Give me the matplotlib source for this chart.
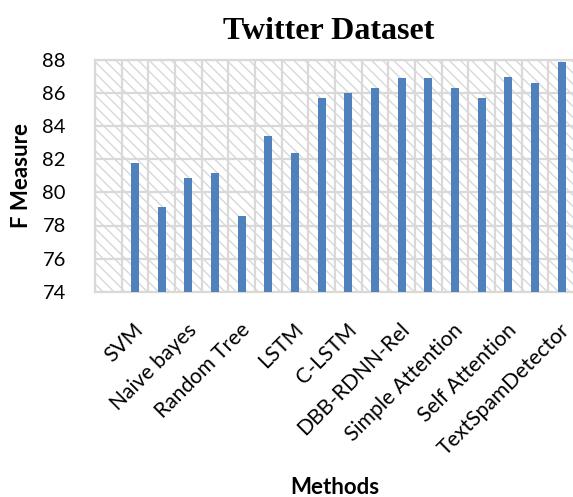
import numpy as np
import matplotlib
matplotlib.use("Agg")
import matplotlib.pyplot as plt
from matplotlib.transforms import blended_transform_factory, ScaledTranslation

# Category slots along the x axis; only every other slot carries a label
slot_labels = ["", "SVM", "", "Naive bayes", "", "Random Tree", "", "LSTM", "",
               "C-LSTM", "", "DBB-RDNN-Rel", "", "Simple Attention", "",
               "Self Attention", "", "TextSpamDetector"]
f_measure = [np.nan, 81.8, 79.1, 80.9, 81.2, 78.6, 83.4, 82.4, 85.7,
             86.0, 86.3, 86.9, 86.9, 86.3, 85.7, 87.0, 86.6, 87.9]
y_ticks = [74, 76, 78, 80, 82, 84, 86, 88]

W, H = 573, 497
fig = plt.figure(figsize=(W / 100, H / 100), dpi=100)
ax = fig.add_axes([95 / W, (H - 291.7) / H, 480 / W, (291.7 - 60) / H])

plt.rcParams["hatch.linewidth"] = 0.8
plt.rcParams["hatch.color"] = "#d8d8d8"
ax.patch.set_facecolor("white")
ax.patch.set_hatch("\\\\\\")
ax.patch.set_edgecolor("#d8d8d8")

x = np.arange(len(f_measure))
ax.bar(x, f_measure, width=0.3, color="#4f81bd", zorder=3, bottom=0)

ax.set_xlim(-0.5, len(f_measure) - 0.5)
ax.set_ylim(74, 88)
ax.set_yticks(y_ticks)
ax.set_yticklabels([str(t) for t in y_ticks], fontsize=14.5, family="Lato")
ax.tick_params(axis="y", length=0, pad=21)
ax.set_xticks([])

# horizontal and vertical grid
for t in y_ticks:
    ax.axhline(t, color="#d9d9d9", lw=1.6, zorder=2)
for b in np.arange(-0.5, len(f_measure) + 0.5, 1.0):
    ax.axvline(b, color="#d9d9d9", lw=1.6, zorder=2)
for s in ax.spines.values():
    s.set_color("#d9d9d9")
    s.set_linewidth(1.6)

# rotated category labels
trans = blended_transform_factory(ax.transData, ax.transAxes)
for i, lab in enumerate(slot_labels):
    if lab:
        ax.text(i, 0, lab, transform=trans + ScaledTranslation(0.05, -0.35, fig.dpi_scale_trans),
                rotation=45, rotation_mode="anchor", ha="right", va="center",
                fontsize=15.2, family="Lato")

fig.text(329 / W, 1 - 39 / H, "Twitter Dataset", ha="center", va="baseline",
         fontsize=23, fontweight="bold", family="Liberation Serif")
fig.text(22 / W, 1 - 175 / H, "F Measure", rotation=90, ha="center", va="center",
         fontsize=16, fontweight="bold", family="Lato")
fig.text(335 / W, 1 - 487 / H, "Methods", ha="center", va="center",
         fontsize=16, fontweight="bold", family="Lato")

fig.savefig("out.png", dpi=100)
